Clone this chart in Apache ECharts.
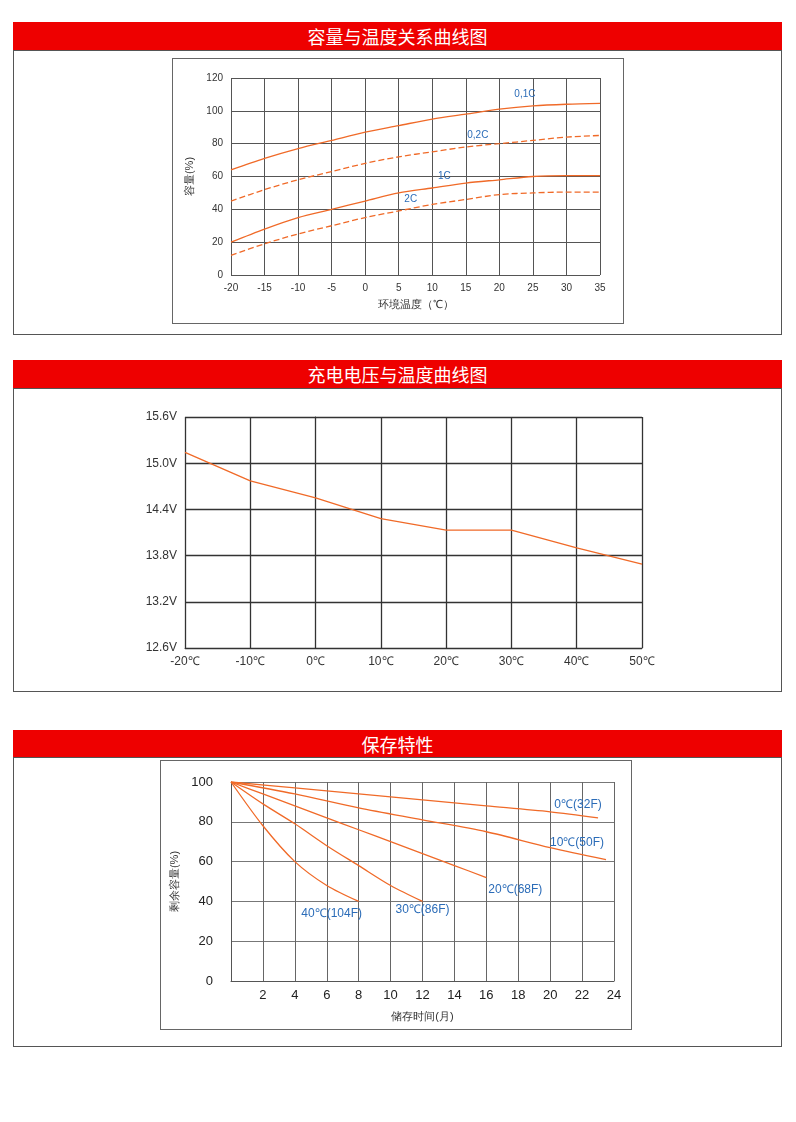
<!DOCTYPE html>
<html><head><meta charset="utf-8">
<script src="https://cdn.jsdelivr.net/npm/echarts@6/dist/echarts.min.js"></script>
<style>
body{margin:0;width:796px;height:1122px;background:#fff;font-family:"Noto Sans CJK SC",sans-serif;position:relative}
.bar{position:absolute;left:13px;width:769px;height:28px;background:#ee0000;color:#fff;font-size:18px;text-align:center;line-height:28px}
.box{position:absolute;left:13px;width:767px;border:1px solid #555}
.frame{position:absolute;border:1px solid #666}
.c{position:absolute}
</style></head><body>
<div class="bar" style="top:22px">容量与温度关系曲线图</div>
<div class="box" style="top:50px;height:283px"></div>
<div class="frame" style="left:172px;top:58px;width:450px;height:264px"></div>
<div class="c" id="c1" style="left:173px;top:59px;width:449px;height:263px"></div>
<div class="bar" style="top:360px">充电电压与温度曲线图</div>
<div class="box" style="top:388px;height:302px"></div>
<div class="c" id="c2" style="left:14px;top:389px;width:766px;height:300px"></div>
<div class="bar" style="top:730px">保存特性</div>
<div class="box" style="top:757px;height:288px"></div>
<div class="frame" style="left:160px;top:760px;width:470px;height:268px"></div>
<div class="c" id="c3" style="left:161px;top:761px;width:469px;height:267px"></div>
<script>
// 容量与温度
const temps1 = [-20,-15,-10,-5,0,5,10,15,20,25,30,35];
const cap01 = [64,71,77,82,87,91,95,98,101,103,104,104.5];
const cap02 = [45,52,58,63,68,72,75,78,80,82,84,85];
const cap1 = [20,28,35,40,45,50,53,56,58,60,60.5,60.5];
const cap2 = [12,19,25,30,35,39,43,46,49,50,50.5,50.5];
// 充电电压
const temps2 = [-20,-10,0,10,20,30,40,50];
const volts = [15.14,14.77,14.55,14.28,14.13,14.13,13.9,13.69];
// 保存特性
const m0 = [0,4,8,12,16,20,23], v0 = [100,97,94,91,88,85,82];
const m10 = [0,4,8,12,16,20,23.5], v10 = [100,94,87,81,75,67,61];
const m20 = [0,2,4,6,8,10,12,14,16], v20 = [100,94,88,82,76,70,64,58,52];
const m30 = [0,2,4,6,8,10,12], v30 = [100,89,79,68,58,48,40];
const m40 = [0,2,4,6,8], v40 = [100,78,60,48,40];

const orange = '#f06a28', blue = '#2b6cb8';
const pairs = (xs, ys) => xs.map((x, i) => [x, ys[i]]);
function withLabel(xs, ys, idx, text, offset, size) {
  const d = pairs(xs, ys);
  d[idx] = {value: d[idx], label: {show: true, formatter: text, color: blue, fontSize: size, offset: offset, position: 'top'}};
  return d;
}
function line(data, dashed) {
  return {type: 'line', data: data, smooth: 0.3, symbol: 'circle', symbolSize: 0, showSymbol: true,
    lineStyle: {color: orange, width: 1.3, type: dashed ? [6, 3] : 'solid'}, z: 3,
    label: {show: false}};
}

const c1 = echarts.init(document.getElementById('c1'));
c1.setOption({
  animation: false,
  grid: {left: 58, right: 22, top: 19, bottom: 47},
  xAxis: {type: 'value', min: -20, max: 35, interval: 5,
    axisLine: {show: false}, axisTick: {show: false},
    axisLabel: {color: '#333', fontSize: 10, formatter: v => v < 0 ? '-' + (-v) : v},
    splitLine: {lineStyle: {color: '#555', width: 1}},
    name: '环境温度（℃）', nameLocation: 'middle', nameGap: 24, nameTextStyle: {color: '#333', fontSize: 11}},
  yAxis: {type: 'value', min: 0, max: 120, interval: 20,
    axisLine: {show: false}, axisTick: {show: false},
    axisLabel: {color: '#333', fontSize: 10},
    splitLine: {lineStyle: {color: '#555', width: 1}},
    name: '容量(%)', nameLocation: 'middle', nameRotate: 90, nameGap: 33, nameTextStyle: {color: '#333', fontSize: 11}},
  series: [
    line(withLabel(temps1, cap01, 9, '0,1C', [-8, -2], 10)),
    line(withLabel(temps1, cap02, 7, '0,2C', [12, -2], 10), true),
    line(withLabel(temps1, cap1, 6, '1C', [12, -2], 10)),
    line(withLabel(temps1, cap2, 5, '2C', [12, -2], 10), true)
  ]
});

const c2 = echarts.init(document.getElementById('c2'));
c2.setOption({
  animation: false,
  grid: {left: 171, right: 138, top: 28, bottom: 41},
  xAxis: {type: 'value', min: -20, max: 50, interval: 10,
    axisLine: {lineStyle: {color: '#333'}}, axisTick: {show: false},
    axisLabel: {color: '#333', fontSize: 12, formatter: '{value}℃'},
    splitLine: {lineStyle: {color: '#333', width: 1.3}}},
  yAxis: {type: 'value', min: 12.6, max: 15.6, interval: 0.6,
    axisLine: {lineStyle: {color: '#333'}}, axisTick: {show: false},
    axisLabel: {color: '#333', fontSize: 12, formatter: v => v.toFixed(1) + 'V'},
    splitLine: {lineStyle: {color: '#333', width: 1.3}}},
  series: [{type: 'line', data: pairs(temps2, volts), symbol: 'none',
    lineStyle: {color: orange, width: 1.3}}]
});

const c3 = echarts.init(document.getElementById('c3'));
c3.setOption({
  animation: false,
  grid: {left: 70, right: 16, top: 21, bottom: 47},
  xAxis: {type: 'value', min: 0, max: 24, interval: 2,
    axisLine: {lineStyle: {color: '#555'}}, axisTick: {show: false},
    axisLabel: {color: '#222', fontSize: 13, formatter: v => v === 0 ? '' : v},
    splitLine: {lineStyle: {color: '#666', width: 1}},
    name: '储存时间(月)', nameLocation: 'middle', nameGap: 30, nameTextStyle: {color: '#333', fontSize: 11}},
  yAxis: {type: 'value', min: 0, max: 100, interval: 20,
    axisLine: {show: true, lineStyle: {color: '#555'}}, axisTick: {show: false},
    axisLabel: {color: '#222', fontSize: 13, margin: 18},
    splitLine: {lineStyle: {color: '#777', width: 1}},
    name: '剩余容量(%)', nameLocation: 'middle', nameRotate: 90, nameGap: 50, nameTextStyle: {color: '#333', fontSize: 11}},
  series: [
    line(withLabel(m0, v0, 6, '0℃(32F)', [-20, -2], 12)),
    line(withLabel(m10, v10, 6, '10℃(50F)', [-29, -6], 12)),
    line(withLabel(m20, v20, 8, '20℃(68F)', [29, 23], 12)),
    line(withLabel(m30, v30, 6, '30℃(86F)', [0, 19], 12)),
    line(withLabel(m40, v40, 4, '40℃(104F)', [-27, 23], 12))
  ]
});
</script>
</body></html>
